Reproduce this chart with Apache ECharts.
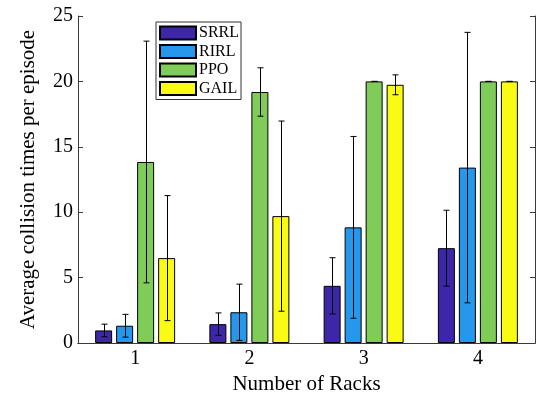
<!DOCTYPE html>
<html>
<head>
<meta charset="utf-8">
<script src="https://cdn.jsdelivr.net/npm/echarts@6/dist/echarts.min.js"></script>
<style>html,body{margin:0;padding:0;background:#fff}#c{width:536px;height:400px}</style>
</head>
<body>
<div id="c"></div>
<script>
var categories = ['1', '2', '3', '4'];
var seriesNames = ['SRRL', 'RIRL', 'PPO', 'GAIL'];
var srrlMean = [0.96, 1.44, 4.37, 7.25];
var srrlErr  = [0.48, 0.86, 2.15, 2.90];
var rirlMean = [1.32, 2.35, 8.84, 13.41];
var rirlErr  = [0.87, 2.15, 6.95, 10.34];
var ppoMean  = [13.84, 19.19, 20.0, 20.0];
var ppoErr   = [9.24, 1.85, 0.0, 0.0];
var gailMean = [6.49, 9.70, 19.74, 20.0];
var gailErr  = [4.78, 7.27, 0.76, 0.0];
var yTicks = [0, 5, 10, 15, 20, 25];

var means = [srrlMean, rirlMean, ppoMean, gailMean];
var errs = [srrlErr, rirlErr, ppoErr, gailErr];
var colors = ['#3E26A8', '#2797EB', '#80CC58', '#F9FB15'];
var FONT = 'Liberation Serif';
var BAR_W = 17, BAR_GAP_PX = 4;

var chart = echarts.init(document.getElementById('c'), null, {renderer: 'canvas'});

var series = [];
seriesNames.forEach(function (name, i) {
  series.push({
    name: name, type: 'bar', data: means[i],
    barWidth: BAR_W, barGap: (BAR_GAP_PX / BAR_W * 100) + '%',
    itemStyle: {color: colors[i], borderColor: '#000', borderWidth: 1},
    emphasis: {disabled: true}, z: 2
  });
});
seriesNames.forEach(function (name, i) {
  var data = means[i].map(function (m, k) { return [k, m - errs[i][k], m + errs[i][k]]; });
  var offset = (i - 1.5) * (BAR_W + BAR_GAP_PX);
  series.push({
    name: name + ' err', type: 'custom', data: data, z: 5, silent: true,
    encode: {x: 0, y: [1, 2]},
    renderItem: function (params, api) {
      var lo = api.coord([api.value(0), api.value(1)]);
      var hi = api.coord([api.value(0), api.value(2)]);
      var x = Math.round(lo[0] + offset) + 0.5;
      var cap = 3;
      var st = {stroke: '#000', lineWidth: 1};
      return {type: 'group', children: [
        {type: 'line', shape: {x1: x, y1: lo[1], x2: x, y2: hi[1]}, style: st},
        {type: 'line', shape: {x1: x - cap, y1: lo[1], x2: x + cap, y2: lo[1]}, style: st},
        {type: 'line', shape: {x1: x - cap, y1: hi[1], x2: x + cap, y2: hi[1]}, style: st}
      ]};
    }
  });
});

var axisLineStyle = {color: '#3a3a3a', width: 1};
chart.setOption({
  animation: false,
  backgroundColor: '#fff',
  grid: {left: 78, right: 1, top: 16, bottom: 54, containLabel: false},
  legend: {
    data: seriesNames, orient: 'vertical', left: 156, top: 22,
    itemWidth: 36, itemHeight: 13, itemGap: 2.5,
    padding: [3, 2, 3, 3],
    backgroundColor: '#fff', borderColor: '#333', borderWidth: 1, borderRadius: 0,
    icon: 'rect',
    textStyle: {fontFamily: FONT, fontSize: 16, color: '#000', padding: [0, 0, 0, -2]}
  },
  xAxis: [{
    type: 'category', data: categories, position: 'bottom',
    name: 'Number of Racks', nameLocation: 'middle', nameGap: 31,
    nameTextStyle: {fontFamily: FONT, fontSize: 21, color: '#000'},
    axisLine: {lineStyle: axisLineStyle},
    axisTick: {inside: true, alignWithLabel: true, length: 5, lineStyle: axisLineStyle},
    axisLabel: {fontFamily: FONT, fontSize: 20, color: '#000', margin: 6},
    splitLine: {show: false}
  }, {
    type: 'category', data: categories, position: 'top',
    axisLine: {lineStyle: axisLineStyle},
    axisTick: {inside: true, alignWithLabel: true, length: 5, lineStyle: axisLineStyle},
    axisLabel: {show: false}, splitLine: {show: false}
  }],
  yAxis: [{
    type: 'value', min: yTicks[0], max: yTicks[yTicks.length - 1], interval: yTicks[1] - yTicks[0],
    position: 'left',
    name: 'Average collision times per episode', nameLocation: 'middle', nameGap: 39,
    nameTextStyle: {fontFamily: FONT, fontSize: 21, color: '#000'},
    axisLine: {show: true, lineStyle: axisLineStyle},
    axisTick: {show: true, inside: true, length: 5, lineStyle: axisLineStyle},
    axisLabel: {fontFamily: FONT, fontSize: 20, color: '#000', margin: 5},
    splitLine: {show: false}
  }, {
    type: 'value', min: yTicks[0], max: yTicks[yTicks.length - 1], interval: yTicks[1] - yTicks[0],
    position: 'right',
    axisLine: {show: true, lineStyle: axisLineStyle},
    axisTick: {show: true, inside: true, length: 5, lineStyle: axisLineStyle},
    axisLabel: {show: false}, splitLine: {show: false}
  }],
  series: series
});
</script>
</body>
</html>
